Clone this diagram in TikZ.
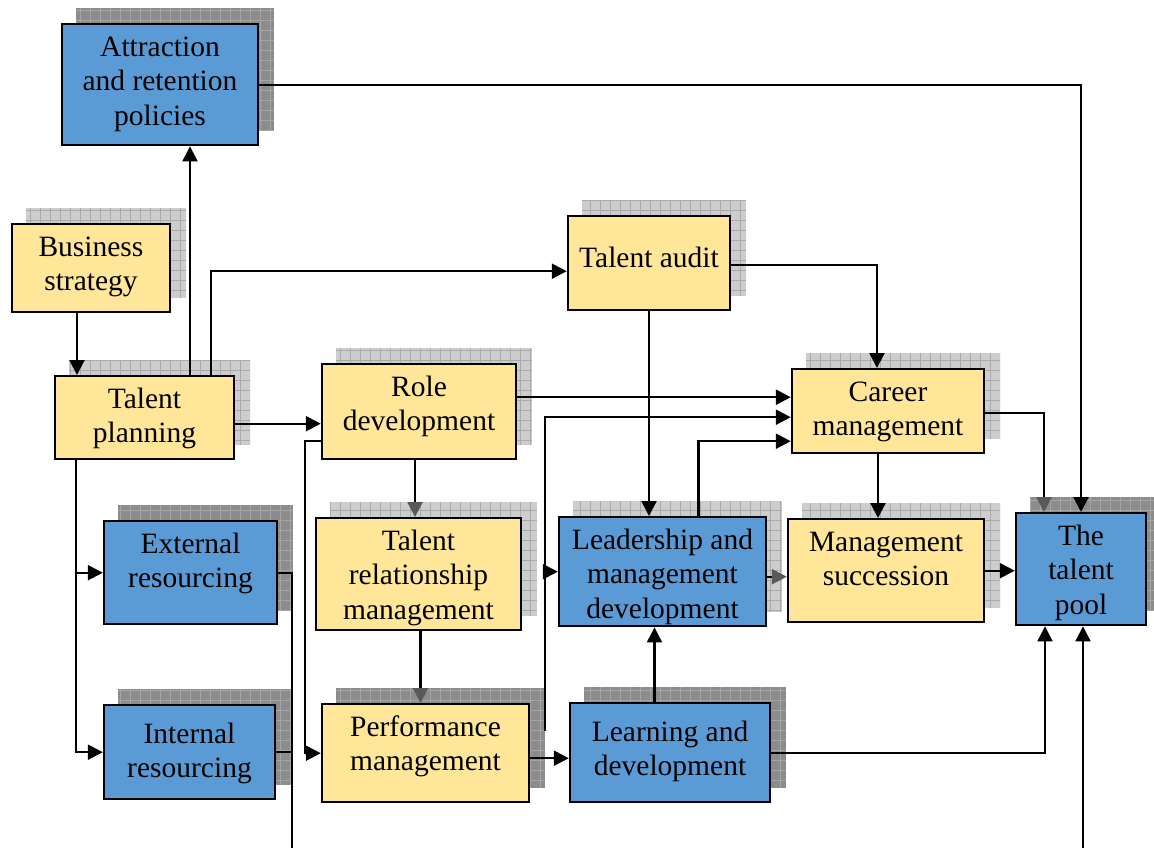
\documentclass[tikz,border=0pt]{standalone}
\usepackage{fontspec}
\setmainfont{Liberation Serif}
\usetikzlibrary{arrows.meta,backgrounds}
\definecolor{poolblue}{RGB}{91,155,213}
\definecolor{sandyellow}{RGB}{255,230,153}
\definecolor{shadedark}{RGB}{140,140,140}
\definecolor{griddark}{RGB}{165,165,165}
\definecolor{shadelight}{RGB}{205,205,205}
\definecolor{gridlight}{RGB}{170,170,170}
\tikzset{
  box/.style={draw, line width=2.4pt, align=center, anchor=north, inner xsep=0pt, inner ysep=0pt,
    text height=32pt, font=\fontsize{29.5}{34.5}\selectfont},
  twoline/.style={text height=66.5pt},
  threeline/.style={text height=101pt},
  bluebox/.style={box, fill=poolblue},
  sandbox/.style={box, fill=sandyellow},
  darkshade/.style={fill=shadedark, path picture={\draw[griddark, line width=0.8pt, step=10pt]
    (path picture bounding box.south west) grid (path picture bounding box.north east);}},
  lightshade/.style={fill=shadelight, path picture={\draw[gridlight, line width=0.8pt, step=10pt]
    (path picture bounding box.south west) grid (path picture bounding box.north east);}},
  conn/.style={line width=2.2pt, -{Triangle[length=15pt,width=15pt]}},
  hidconn/.style={line width=2.2pt, -{Triangle[length=15pt,width=15pt,color=black!65]}},
  plainline/.style={line width=2.2pt}
}
\begin{document}
\begin{tikzpicture}[x=1pt,y=-1pt]
  \useasboundingbox (0,0) rectangle (1154,848);
  % boxes (placed by their top edge)
  \node[bluebox, threeline, minimum width=196pt, text depth=20pt] (attr) at (160,23) {Attraction\\and retention\\policies};
  \node[sandbox, twoline, minimum width=158pt, text depth=21.5pt] (biz) at (91,223) {Business\\strategy};
  \node[sandbox, twoline, minimum width=179pt, text depth=16.5pt] (plan) at (144.5,375) {Talent\\planning};
  \node[sandbox, minimum width=162pt, text height=51pt, text depth=43pt] (audit) at (649,215) {Talent audit};
  \node[sandbox, twoline, minimum width=194pt, text depth=28.5pt] (role) at (419,363) {Role\\development};
  \node[sandbox, twoline, minimum width=192pt, text depth=17.5pt] (career) at (888,368) {Career\\management};
  \node[bluebox, twoline, minimum width=173pt, text depth=36.5pt] (ext) at (190.5,520) {External\\resourcing};
  \node[sandbox, threeline, minimum width=205pt, text depth=11pt] (trm) at (418.5,517) {Talent\\relationship\\management};
  \node[bluebox, threeline, minimum width=207pt, text depth=8pt] (lead) at (662.5,516) {Leadership and\\management\\development};
  \node[sandbox, twoline, minimum width=196pt, text depth=36.5pt] (succ) at (886,518) {Management\\succession};
  \node[bluebox, threeline, minimum width=130pt, text depth=11pt] (pool) at (1081,512) {The\\talent\\pool};
  \node[bluebox, minimum width=171pt, text height=72.5pt, text depth=21.5pt] (int) at (189.5,704) {Internal\\resourcing};
  \node[sandbox, twoline, minimum width=207pt, text depth=31.5pt] (perf) at (425.5,703) {Performance\\management};
  \node[bluebox, minimum width=200pt, text height=72.5pt, text depth=26.5pt] (learn) at (670,702) {Learning and\\development};
  % grid shadows behind the boxes
  \begin{scope}[on background layer]
    \foreach \n in {attr,ext,int,pool,perf,learn}
      \path[darkshade] ([shift={(15,-15)}]\n.south west) rectangle ([shift={(15,-15)}]\n.north east);
    \foreach \n in {biz,plan,audit,role,career,trm,lead,succ}
      \path[lightshade] ([shift={(15,-15)}]\n.south west) rectangle ([shift={(15,-15)}]\n.north east);
  \end{scope}
  % lines leaving the page at the bottom
  \coordinate (ressink) at (292,848);
  \coordinate (poolfeed) at (1083,848);
  % connectors
  \draw[conn] (biz.south) ++(-14,0) -- ([xshift=-14pt]biz.south |- plan.north);
  \draw[conn] ([xshift=45.5pt]plan.north) -- ([xshift=45.5pt]plan.north |- attr.south);
  \draw[conn] ([xshift=66.5pt]plan.north) |- ([yshift=-8pt]audit.west);
  \draw[conn] (attr.east) -| (pool.north);
  \draw[conn] ([yshift=-6pt]plan.east) -- ([yshift=-6pt]plan.east -| role.west);
  \draw[conn] ([xshift=-68.5pt]plan.south) |- (int.west);
  \draw[conn] ([xshift=-68.5pt]plan.south |- ext.west) -- (ext.west);
  \draw[plainline] (ext.east) -| (ressink);
  \draw[plainline] (int.east) -- (int.east -| ressink);
  \draw[conn] ([yshift=14.5pt]role.east) -- ([yshift=14.5pt]role.east -| career.west);
  \draw[conn] ([yshift=-2pt]audit.east) -| ([xshift=-11pt]career.north);
  \draw[conn] (audit.south) -- (audit.south |- lead.north);
  \draw[hidconn] ([xshift=-4pt]role.south) -- ([xshift=-4pt]role.south |- trm.north);
  \draw[hidconn] ([xshift=2pt]trm.south) -- ([xshift=2pt]trm.south |- perf.north);
  \draw[conn] ([yshift=-29.5pt]role.west) -- ++(-16,0) |- (perf.west);
  \draw[conn] ([shift={(15,-22)}]perf.east) coordinate (perfup) |- ([yshift=-6pt]career.west);
  \draw[conn] (perfup |- lead.west) -- (lead.west);
  \draw[conn] ([xshift=36pt]lead.north) |- ([yshift=-30pt]career.west);
  \draw[conn] ([xshift=-10pt]career.south) -- ([xshift=-10pt]career.south |- succ.north);
  \draw[hidconn] ([yshift=-5pt]lead.east) -- ([yshift=-5pt]lead.east -| succ.west);
  \draw[conn] (succ.east) -- (succ.east -| pool.west);
  \draw[hidconn] ([yshift=-2pt]career.east) -| ([xshift=-37pt]pool.north);
  \draw[conn] ([xshift=-8pt]lead.south |- learn.north) -- ([xshift=-8pt]lead.south);
  \draw[conn] ([yshift=-5pt]perf.east) -- ([yshift=-5pt]perf.east -| learn.west);
  \draw[conn] (learn.east) -| ([xshift=-36pt]pool.south);
  \draw[conn] (poolfeed) -- (poolfeed |- pool.south);
\end{tikzpicture}
\end{document}
